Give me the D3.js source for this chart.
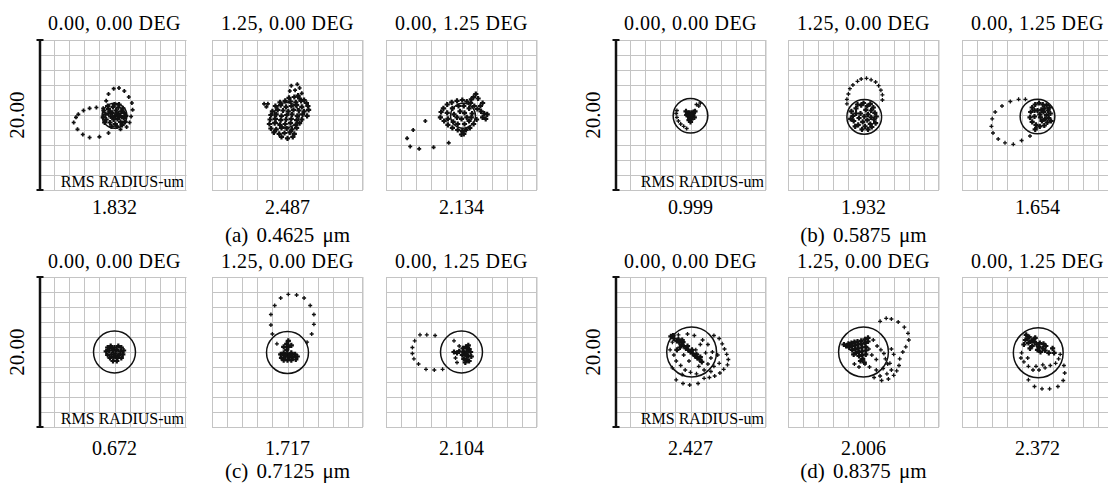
<!DOCTYPE html>
<html>
<head>
<meta charset="utf-8">
<script src="https://cdn.jsdelivr.net/npm/d3@7"></script>
<style>
body { margin: 0; background: #fff; }
</style>
</head>
<body>
<svg id="chart"></svg>
<script>
var wavelengths = ["0.4625", "0.5875", "0.7125", "0.8375"];
var groupLetters = ["a", "b", "c", "d"];
var fieldLabels = ["0.00, 0.00 DEG", "1.25, 0.00 DEG", "0.00, 1.25 DEG"];
var rmsRadius = [[1.832, 2.487, 2.134], [0.999, 1.932, 1.654], [0.672, 1.717, 2.104], [2.427, 2.006, 2.372]];
var scaleLabel = "20.00";
var airyRadius = [1.65, 2.3, 2.78, 3.3];
var airyCenters = [
  [[0, -0.1], [-0.1, 0], [0.2, -0.1]],
  [[0, -0.1], [0.1, -0.25], [0, -0.2]],
  [[0, 0], [0, -0.07], [0, 0]],
  [[0.15, 0], [0, 0], [0.1, -0.1]]
];

// spot points in um, relative to panel centre
var ringA1 = [[-5.1,-0.3],[-5.4,-1.0],[-4.9,-1.9],[-4.2,-2.6],[-3.3,-3.0],[-2.0,-2.9],[-0.8,-2.4],[-4.1,0.6],[-3.3,0.9],[-2.4,1.0],[-1.5,0.9],[-4.8,0.1],
  [-1.1,1.9],[-0.8,2.8],[-0.1,3.5],[0.6,3.6],[1.3,3.2],[1.9,2.4],[2.3,1.6],[2.4,0.7],[2.2,-0.2],[2.0,-1.0],[1.6,-1.6],[0.8,-1.9]];
var coreA1 = [[0.1,-0.1],[0.5,0.2],[-0.3,0.3],[0.2,0.6],[-0.5,-0.2],[0.4,-0.5],[-0.1,-0.6],[0.8,-0.1],[-0.8,0.2],[0.9,0.5],[0.5,1.0],[-0.2,1.1],
  [-0.8,0.8],[-1.2,0.1],[-1.1,-0.6],[-0.6,-1.0],[0.1,-1.2],[0.8,-0.9],[1.2,-0.4],[1.3,0.3],[1.1,0.9],[0.0,1.4],[-1.3,-1.0],[1.0,-1.3],
  [-0.4,-1.5],[0.6,1.4],[-1.4,0.6],[1.5,-0.1],[0.3,-1.5],[-0.9,1.2],[1.4,-0.9],[-1.5,-0.3],[0.3,0.1],[-0.2,-0.3],[0.6,-0.2],[-0.6,0.5]];
var ringA2 = [[-3.1,1.5],[-2.8,1.1],[-2.6,1.5],[0.5,3.9],[1.3,4.1],[1.6,3.6],[1.0,3.3],[1.9,2.9],[0.3,3.2]];
var coreA2 = [[1.4,2.6],
  [0.2,2.3],[0.9,2.4],[1.6,2.2],[2.2,2.0],[-1.0,1.7],[-0.3,1.9],[0.4,1.8],[1.1,1.7],[1.8,1.9],[2.5,1.6],
  [-1.6,1.2],[-0.9,1.3],[-0.2,1.1],[0.5,1.2],[1.2,1.3],[1.9,1.1],[2.7,1.2],
  [-2.0,0.5],[-1.3,0.7],[-0.6,0.6],[0.1,0.5],[0.8,0.7],[1.5,0.6],[2.2,0.5],[2.8,0.7],
  [-2.2,0.0],[-1.5,0.1],[-0.8,-0.1],[-0.1,0.0],[0.6,0.1],[1.3,-0.1],[2.0,0.1],[2.6,-0.1],
  [-2.3,-0.6],[-1.6,-0.5],[-0.9,-0.7],[-0.2,-0.6],[0.5,-0.5],[1.2,-0.7],[1.9,-0.6],
  [-2.4,-1.2],[-1.7,-1.1],[-1.0,-1.3],[-0.3,-1.2],[0.4,-1.1],[1.1,-1.3],[1.6,-1.1],
  [-2.2,-1.8],[-1.5,-1.9],[-0.8,-1.7],[-0.1,-1.8],[0.6,-1.9],[1.2,-1.7],
  [-1.8,-2.3],[-1.1,-2.5],[-0.4,-2.4],[0.3,-2.3],[0.9,-2.5],[-0.8,-2.9],[0.0,-3.1],[0.7,-2.9]];
var ringA3 = [[-4.8,-0.8],[-6.4,-2.0],[-7.2,-3.1],[-6.8,-4.2],[-5.6,-4.5],[-3.7,-4.3],[-1.7,-3.7]];
var coreA3 = [[-2.7,0.4],[-2.8,-0.3],[-2.4,0.9],[-2.3,-0.8],[-1.9,1.4],[-1.8,-1.3],[-1.3,1.7],[-1.2,-1.7],[-0.6,1.9],[-0.5,-2.0],
  [0.1,2.0],[0.1,-2.1],[0.7,1.8],[0.6,-2.0],[1.2,1.6],[1.1,-1.7],[1.7,1.2],[1.6,-1.2],[2.1,0.8],[2.0,-0.6],
  [-1.9,0.3],[-1.8,-0.5],[-1.2,0.9],[-1.1,-0.9],[-0.4,1.2],[-0.5,-1.2],[0.3,1.2],[0.4,-1.2],[1.0,0.9],[1.0,-0.8],
  [1.4,0.2],[1.3,-0.3],[-1.0,0.1],[-0.2,0.5],[0.4,0.3],[0.0,-0.5],[-0.6,-0.3],[0.7,-0.3],
  [2.6,0.5],[3.0,0.2],[3.4,0.1],[2.8,-0.3],[3.2,-0.5],[2.5,1.2],[2.8,1.6],[1.6,2.4],[1.9,2.8],[1.3,2.1],[2.2,2.2],[0.0,-2.6],[0.3,-2.5]];

var ringB1 = [[-1.8,0.6],[-1.9,0.2],[-1.8,-0.3],[-1.6,-0.8],[-1.3,-1.2],[-0.9,-1.5],[-0.5,-1.8],[0.8,1.4],[1.1,1.2],[1.3,1.6]];
var coreB1 = [[-0.4,0.2],[-0.2,0.3],[0.1,0.3],[0.3,0.1],[-0.3,-0.1],[0,0],[0.2,-0.2],[-0.1,-0.4],[0.1,-0.6],[-0.2,-0.7],[-0.5,0.0],[0.4,0.4],
  [0.0,-0.9],[0.6,0.5],[-0.6,0.5],[0.5,-0.3]];
var ringB2 = [[-2.2,1.5],[-2.2,2.1],[-2.0,2.8],[-1.8,3.5],[-1.4,4.0],[-0.8,4.5],[-0.3,4.8],[0.4,4.9],[1.0,4.7],[1.6,4.4],[2.0,3.9],[2.3,3.3],[2.5,2.7],[2.5,2.0]];
var coreB2 = [[0.1,-0.2],[0.6,0.1],[-0.4,0.2],[0.3,0.7],[-0.6,-0.4],[0.5,-0.7],[-0.1,-0.9],[1.0,-0.3],[-1.0,0.2],[1.0,0.6],[0.5,1.2],[-0.3,1.3],
  [-1.0,0.9],[-1.4,-0.1],[-1.3,-0.8],[-0.7,-1.3],[0.2,-1.5],[0.9,-1.2],[1.4,-0.6],[1.5,0.3],[1.3,1.0],[-1.6,0.5],[-1.1,-1.5],[1.1,-1.6],
  [-0.2,-1.9],[0.6,-1.9],[-1.7,-0.5],[1.7,-0.2],[0.0,1.6],[0.9,1.5],[-0.8,1.4],[1.6,-1.1]];
var ringB3 = [[-1.6,2.1],[-2.5,2.1],[-3.6,1.8],[-4.7,1.2],[-5.6,0.4],[-6.0,-0.5],[-6.1,-1.5],[-5.9,-2.4],[-5.2,-3.2],[-4.3,-3.7],[-3.2,-3.9],[-2.1,-3.4],[-1.0,-2.8],[-0.2,-1.7]];
var coreB3 = [[0.3,0.1],[0.8,0.4],[1.2,0.0],[1.0,-0.5],[0.6,-0.8],[0.9,0.9],[1.4,0.6],[1.5,-0.4],[1.3,-1.0],[0.7,1.4],[1.2,1.3],[1.7,0.2],
  [0.2,1.6],[-0.3,1.4],[-0.7,1.0],[-0.9,0.4],[-1.0,-0.3],[-0.7,-0.9],[-0.2,-1.3],[0.3,-1.5],[0.9,-1.4],[0.0,0.6],[0.4,-0.3],[-0.4,-0.2],
  [1.6,1.0],[1.8,-0.8],[0.5,0.7],[-0.4,0.6],[-0.3,-1.9]];

var ringC1 = [];
var coreC1 = [[-0.9,0.6],[-0.5,0.8],[0.0,0.6],[0.5,0.8],[0.9,0.6],[1.2,0.2],[-1.1,0.1],[-0.7,0.2],[-0.2,0.2],[0.3,0.3],[0.8,0.1],[-0.9,-0.4],
  [-0.4,-0.3],[0.1,-0.2],[0.6,-0.4],[1.1,-0.3],[-0.6,-0.8],[-0.1,-0.7],[0.4,-0.8],[0.9,-0.8],[-0.2,-1.2],[0.3,-1.2],[0.1,-0.5],[-0.3,0.5]];
var ringC2 = [[0.1,7.7],[1.2,7.6],[-0.9,7.2],[2.2,7.2],[-1.7,6.2],[3.0,6.2],[-2.2,5.0],[3.5,5.0],[-2.2,3.6],[3.5,3.7],[-2.0,2.4],[3.2,2.4],[2.6,1.3],[-1.4,1.1]];
var coreC2 = [[-0.9,-0.3],[-0.5,-0.1],[0.0,-0.2],[0.5,-0.1],[1.0,-0.3],[1.3,-0.6],[-0.8,-0.8],[-0.3,-0.6],[0.2,-0.7],[0.7,-0.7],[1.1,-1.0],
  [-0.5,-1.1],[0.0,-1.1],[0.5,-1.1],[-0.1,0.3],[0.1,0.7],[-0.1,1.1],[0.1,1.5],[-0.5,0.7],[0.5,0.9],[-0.4,-0.4],[0.4,-0.4]];
var ringC3 = [[-5.5,2.3],[-4.6,2.3],[-3.5,2.2],[-6.2,1.5],[-6.5,0.6],[-6.5,-0.2],[-6.3,-0.9],[-5.7,-1.6],[-4.7,-2.3],[-3.6,-2.4],[-2.5,-2.3],
  [-1.0,1.5],[-0.3,0.8],[-0.6,-1.4],[-0.8,-0.8]];
var coreC3 = [[0.2,0.5],[0.6,0.7],[1.0,0.4],[0.3,0.0],[0.7,0.1],[1.2,0.0],[0.1,-0.4],[0.5,-0.4],[0.9,-0.5],[1.3,-0.6],[0.3,-0.9],[0.7,-1.0],
  [1.0,-1.2],[0.5,-1.4],[-0.3,0.1],[-0.6,-0.1],[-1.0,0.0],[0.6,-0.2],[0.9,0.9]];

var ringD1 = [[-1.9,-3.7],[-1.0,-4.2],[-0.1,-4.4],[1.0,-4.2],[1.8,-3.5],[2.5,-3.4],[3.2,-3.2],[3.9,-2.8],[4.4,-2.3],[4.9,-1.7],[5.0,-1.0],
  [4.8,-0.3],[4.5,0.4],[4.2,1.1],[3.8,1.8],[3.1,2.2],
  [-2.2,-0.4],[-1.9,-1.2],[-1.3,-1.8],[-0.7,-2.4],[0.0,-2.7],[0.8,-2.9],[1.8,-2.4],[2.3,-1.6],[2.7,-0.8],[2.9,0.0],[2.3,1.0],[1.6,1.6],
  [0.5,2.2],[-0.4,2.4],[-1.6,2.3],[-2.4,1.3],[-2.7,0.3],[-0.9,-0.4],[0.7,0.3],[1.3,1.0],[2.0,-0.1],[1.1,-1.9],[-0.2,-1.2],[3.1,-1.9],
  [3.8,-1.5],[3.6,-0.4],[2.7,-2.6],[-1.1,-3.0],[-2.4,-2.1]];
var coreD1 = [[-2.6,2.1],[-2.2,1.8],[-1.8,1.5],[-1.5,1.3],[-1.2,1.0],[-0.9,0.8],[-0.6,0.5],[-0.3,0.3],[0.0,0.0],[0.3,-0.2],[0.6,-0.5],[0.9,-0.8],
  [1.2,-1.0],[1.5,-1.3],[-2.3,2.2],[-1.6,1.7],[-1.0,1.3],[-0.4,0.8],[0.2,0.3],[0.8,-0.3],[1.3,-0.7],[-1.8,0.3],[-1.4,0.6],[-1.1,1.6]];
var ringD2 = [[2.2,4.1],[3.0,4.5],[3.7,4.4],[4.6,4.0],[5.4,3.3],[5.9,2.5],[6.0,1.6],[5.6,0.7],[5.2,0.0],[4.8,-0.9],[4.7,-1.8],[4.4,-2.5],
  [4.0,-3.1],[3.3,-3.6],[2.4,-3.8],[1.4,-3.4],
  [1.3,1.6],[1.8,0.8],[2.3,0.3],[2.7,-0.2],[2.9,-0.9],[3.2,-1.6],[2.6,-2.2],[1.7,-2.4],[0.8,-2.0],[0.2,-1.6],[-0.6,-2.0],[-1.2,-1.6],
  [1.1,-0.4],[1.7,-1.0],[0.7,0.4],[3.7,0.4],[4.0,-0.3],[3.5,-1.5],[3.7,-2.4],[3.1,-2.9],[2.2,-3.2]];
var coreD2 = [[-2.6,1.0],[-2.3,0.8],[-2.0,1.1],[-1.9,0.6],[-1.6,1.2],[-1.5,0.8],[-1.5,0.3],[-1.2,1.3],[-1.1,0.9],[-1.1,0.4],[-1.0,-0.1],
  [-0.8,1.4],[-0.7,1.0],[-0.7,0.5],[-0.6,0.0],[-0.6,-0.5],[-0.3,1.5],[-0.3,1.1],[-0.2,0.6],[-0.2,0.1],[-0.2,-0.4],[-0.1,-0.9],[0.2,1.7],
  [0.2,1.2],[0.3,0.7],[0.3,0.2],[0.3,-0.3],[0.6,1.9],[0.6,1.4],[-1.3,-0.3],[-0.4,-1.2],[0.1,-1.4]];
var ringD3 = [[-1.2,-3.7],[-0.4,-4.6],[0.6,-4.9],[1.6,-4.9],[2.7,-4.6],[3.4,-3.8],[3.6,-2.8],[3.5,-1.8],
  [-2.2,-0.8],[-1.8,-1.3],[-1.2,-1.9],[-0.6,-2.4],[0.2,-2.4],[1.0,-2.1],[1.7,-1.8],[2.4,-1.5],[2.8,-0.9],[3.0,-0.3],[-2.1,-0.1],
  [-1.3,-0.8],[0.7,-1.7],[-0.2,-1.9]];
var coreD3 = [[-1.5,2.3],[-1.1,2.0],[-1.6,1.6],[-0.8,1.5],[-1.2,1.2],[-0.4,1.3],[-0.1,1.0],[-0.7,0.8],[0.2,0.7],[0.7,0.5],[0.0,0.3],[1.0,0.2],
  [1.5,-0.1],[0.4,0.0],[-1.0,0.5],[-1.8,1.0],[-0.3,1.9],[0.8,1.1],[1.1,0.8],[2.0,0.5],[2.2,-0.1],[-0.5,1.7],[0.3,1.2],[-1.3,1.8]];

var rings = [[ringA1, ringA2, ringA3], [ringB1, ringB2, ringB3], [ringC1, ringC2, ringC3], [ringD1, ringD2, ringD3]];
var cores = [[coreA1, coreA2, coreA3], [coreB1, coreB2, coreB3], [coreC1, coreC2, coreC3], [coreD1, coreD2, coreD3]];

var W = 1108, H = 484;
var pw = 151, ph = 150, clipW = 147;
var groupX = [39, 615];
var panelDX = [0, 173, 347];
var rowY = [40, 277];
var titleY = [30, 268];
var valueY = [214, 455];
var captionY = [242, 478];
var gridColor = "#c4c4c4";
var serif = "'Liberation Serif', 'Times New Roman', 'DejaVu Serif', serif";

var svg = d3.select("#chart")
  .attr("width", W)
  .attr("height", H)
  .style("font-family", serif);

for (var g = 0; g < 4; g++) {
  for (var i = 0; i < 3; i++) drawPanel(g, i);
}

function drawPanel(g, i) {
  var row = Math.floor(g / 2),
      px = groupX[g % 2] + panelDX[i],
      py = rowY[row],
      cw = (g % 2 === 0 && i === 0) ? clipW : pw;

  var x = d3.scaleLinear().domain([-10, 10]).range([0, pw]);
  var y = d3.scaleLinear().domain([-10, 10]).range([ph, 0]);

  var p = svg.append("g").attr("transform", "translate(" + px + "," + py + ")");
  var id = "clip" + g + i;
  p.append("clipPath").attr("id", id)
    .append("rect").attr("x", -1).attr("y", -1).attr("width", cw + 1.5).attr("height", ph + 2);

  var body = p.append("g").attr("clip-path", "url(#" + id + ")");
  body.selectAll(".vx").data(x.ticks(10)).enter().append("line")
    .attr("x1", function(t) { return Math.round(x(t)) + 0.5; })
    .attr("x2", function(t) { return Math.round(x(t)) + 0.5; })
    .attr("y1", 0).attr("y2", ph)
    .style("stroke", gridColor);
  body.selectAll(".hy").data(y.ticks(10)).enter().append("line")
    .attr("y1", function(t) { return Math.round(y(t)) + 0.5; })
    .attr("y2", function(t) { return Math.round(y(t)) + 0.5; })
    .attr("x1", 0).attr("x2", pw)
    .style("stroke", gridColor);
  body.append("line")
    .attr("x1", cw - 0.5).attr("x2", cw - 0.5).attr("y1", 0).attr("y2", ph)
    .style("stroke", gridColor);

  var c = airyCenters[g][i];
  body.append("circle")
    .attr("cx", x(c[0]))
    .attr("cy", y(c[1]))
    .attr("r", x(airyRadius[g]) - x(0))
    .style("fill", "none")
    .style("stroke", "#111")
    .style("stroke-width", 1.5);

  body.selectAll(".ring").data(rings[g][i]).enter().append("path")
    .attr("d", "M-2,0H2M0,-2V2")
    .attr("transform", function(d) { return "translate(" + x(d[0]).toFixed(1) + "," + y(d[1]).toFixed(1) + ")"; })
    .style("stroke", "#111")
    .style("stroke-width", g === 0 ? 1.7 : 1.3);

  body.selectAll(".core").data(cores[g][i]).enter().append("path")
    .attr("d", "M-2.6,0H2.6M0,-2.6V2.6")
    .attr("transform", function(d) { return "translate(" + x(d[0]).toFixed(1) + "," + y(d[1]).toFixed(1) + ")"; })
    .style("stroke", "#111")
    .style("stroke-width", 2.2);

  p.append("text")
    .attr("x", pw / 2)
    .attr("y", titleY[row] - py)
    .style("text-anchor", "middle")
    .style("font-size", "20px")
    .style("letter-spacing", "0.5px")
    .text(fieldLabels[i]);

  p.append("text")
    .attr("x", pw / 2)
    .attr("y", valueY[row] - py)
    .style("text-anchor", "middle")
    .style("font-size", "20px")
    .text(d3.format(".3f")(rmsRadius[g][i]));

  if (i === 1) {
    p.append("text")
      .attr("x", pw / 2)
      .attr("y", captionY[row] - py)
      .style("text-anchor", "middle")
      .style("font-size", "21px")
      .style("word-spacing", "3px")
      .text("(" + groupLetters[g] + ") " + wavelengths[g] + " μm");
  }

  if (i === 0) {
    p.append("line").attr("x1", 1).attr("x2", 1).attr("y1", 0).attr("y2", ph)
      .style("stroke", "#111").style("stroke-width", 2.5);
    p.selectAll(".cap").data([0, ph]).enter().append("line")
      .attr("x1", -2.5).attr("x2", 4.5)
      .attr("y1", function(d) { return d; }).attr("y2", function(d) { return d; })
      .style("stroke", "#111").style("stroke-width", 2);
    p.append("text")
      .attr("transform", "translate(-15," + (ph / 2) + ")rotate(-90)")
      .style("text-anchor", "middle")
      .style("font-size", "21px")
      .text(scaleLabel);
    p.append("text")
      .attr("x", cw - 2)
      .attr("y", ph - 3)
      .style("text-anchor", "end")
      .style("font-size", "16px")
      .text("RMS RADIUS-um");
  }
}
</script>
</body>
</html>
